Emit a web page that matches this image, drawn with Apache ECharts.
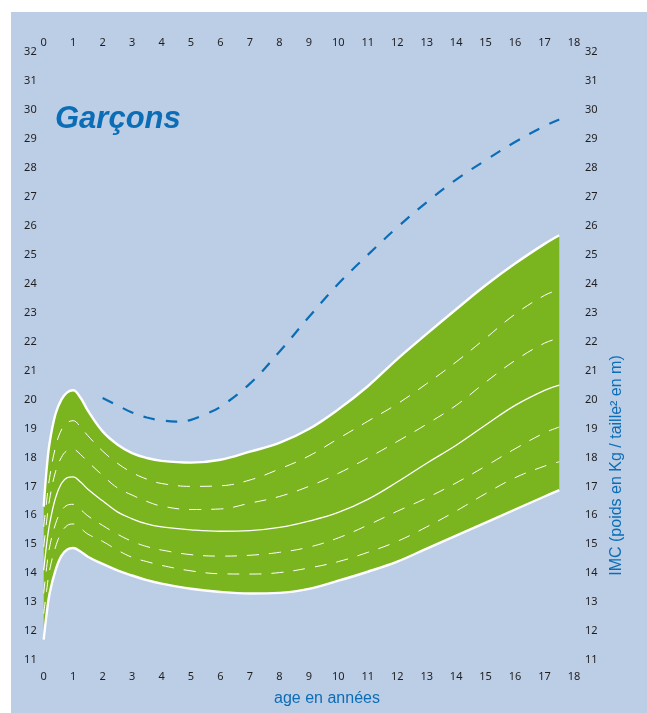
<!DOCTYPE html>
<html><head><meta charset="utf-8">
<script src="https://cdn.jsdelivr.net/npm/echarts@6/dist/echarts.min.js"></script>
<style>
html,body{margin:0;padding:0;background:#fff;width:647px;height:713px;overflow:hidden}
#c{position:absolute;left:11px;top:12px;width:636px;height:701px;background:#bccde6}
</style></head>
<body><div id="c"></div>
<script>
// Ages (years) for percentile curves
const ages = [0, 0.1, 0.2, 0.4, 0.6, 0.8, 1, 1.25, 1.5, 2, 2.5, 3, 3.5, 4, 5, 6, 7, 8, 9, 10, 11, 12, 13, 14, 15, 16, 17, 17.5];
const p97 = [16.3, 17.6, 18.5, 19.5, 20.0, 20.25, 20.32, 20.06, 19.62, 18.9, 18.45, 18.15, 17.98, 17.88, 17.82, 17.92, 18.2, 18.5, 18.98, 19.66, 20.46, 21.4, 22.27, 23.12, 23.95, 24.7, 25.38, 25.68];
const p90 = [15.6, 16.5, 17.3, 18.35, 18.95, 19.2, 19.27, 19.05, 18.75, 18.22, 17.8, 17.48, 17.25, 17.1, 17.0, 17.02, 17.22, 17.6, 18.05, 18.65, 19.25, 19.85, 20.55, 21.3, 22.12, 22.95, 23.6, 23.8];
const p75 = [14.9, 15.8, 16.55, 17.5, 18.0, 18.24, 18.28, 18.1, 17.85, 17.38, 16.95, 16.7, 16.48, 16.32, 16.2, 16.22, 16.42, 16.65, 17.0, 17.45, 17.98, 18.55, 19.15, 19.8, 20.6, 21.35, 21.95, 22.12];
const p50 = [14.1, 15.0, 15.7, 16.6, 17.1, 17.3, 17.33, 17.15, 16.9, 16.5, 16.12, 15.88, 15.7, 15.6, 15.5, 15.45, 15.47, 15.58, 15.8, 16.1, 16.55, 17.15, 17.8, 18.42, 19.12, 19.8, 20.32, 20.5];
const p25 = [13.3, 14.2, 14.9, 15.7, 16.15, 16.35, 16.38, 16.2, 15.98, 15.65, 15.35, 15.1, 14.92, 14.8, 14.64, 14.59, 14.62, 14.72, 14.9, 15.22, 15.66, 16.14, 16.6, 17.12, 17.7, 18.3, 18.85, 19.05];
const p10 = [12.6, 13.4, 14.1, 14.9, 15.4, 15.65, 15.7, 15.55, 15.35, 15.1, 14.8, 14.55, 14.4, 14.27, 14.08, 13.98, 13.97, 14.02, 14.18, 14.4, 14.72, 15.1, 15.6, 16.15, 16.75, 17.3, 17.7, 17.85];
const p3  = [11.7, 12.6, 13.3, 14.1, 14.6, 14.82, 14.87, 14.75, 14.57, 14.32, 14.1, 13.92, 13.76, 13.64, 13.46, 13.35, 13.3, 13.32, 13.46, 13.74, 14.05, 14.4, 14.85, 15.3, 15.75, 16.2, 16.65, 16.87];
// Obesity threshold (dashed blue)
const iotfAges = [2, 2.5, 3, 3.5, 4, 4.5, 5, 5.5, 6, 7, 8, 9, 10, 11, 12, 13, 14, 15, 16, 17, 17.5];
const iotf = [20.05, 19.8, 19.55, 19.38, 19.28, 19.24, 19.3, 19.5, 19.75, 20.55, 21.65, 22.85, 24.0, 25.0, 25.95, 26.82, 27.6, 28.27, 28.9, 29.45, 29.68];
// Axis ranges
const xMin = 0, xMax = 18, yMin = 11, yMax = 32;
const titleText = 'Garçons';
const xName = 'age en années';
const yName = 'IMC (poids en Kg / taille\u00b2 en m)';

const GREEN = '#7ab41e', BLUE = '#0b6db5', LABEL = '#1e1e1e';
const zip = (xs, ys) => xs.map((x, i) => [x, ys[i]]);
// value-first rows so that stacking acts on the BMI dimension
const zipV = (xs, ys) => xs.map((x, i) => [ys[i], x]);
const bandWidth = p97.map((v, i) => +(v - p3[i]).toFixed(3));
const SM = 0.4;

const chart = echarts.init(document.getElementById('c'), null, {renderer: 'canvas'});
const lab = (m) => ({show: true, margin: m, fontSize: 11, color: LABEL, fontFamily: 'Noto Sans'});
const xa = (pos, m) => ({type: 'value', position: pos, min: xMin, max: xMax, interval: 1,
  axisLine: {show: false}, axisTick: {show: false}, splitLine: {show: false}, axisLabel: lab(m)});
const ya = (pos, m) => ({type: 'value', position: pos, min: yMin, max: yMax, interval: 1,
  axisLine: {show: false}, axisTick: {show: false}, splitLine: {show: false}, axisLabel: lab(m)});
const line = (ys, width, dash, z) => ({type: 'line', data: zip(ages, ys), symbol: 'none', smooth: SM,
  silent: true, z: z || 3,
  lineStyle: {color: '#ffffff', width: width, type: dash ? [12, 10] : 'solid', opacity: 1}});

chart.setOption({
  animation: false,
  grid: {left: 32.7, right: 73, top: 40.3, bottom: 53},
  xAxis: [xa('bottom', 11), xa('top', 4)],
  yAxis: [ya('left', 7), ya('right', 11)],
  series: [
    {type: 'line', data: zipV(ages, p3), encode: {x: 1, y: 0}, stack: 'band', symbol: 'none', smooth: SM,
      silent: true, lineStyle: {opacity: 0}, z: 1},
    {type: 'line', data: zipV(ages, bandWidth), encode: {x: 1, y: 0}, stack: 'band', symbol: 'none', smooth: SM,
      silent: true, lineStyle: {opacity: 0}, areaStyle: {color: GREEN, opacity: 1}, z: 1},
    line(p97, 2.4, false, 5),
    line(p90, 1, true),
    line(p75, 1, true),
    line(p50, 1.3, false),
    line(p25, 1, true),
    line(p10, 1, true),
    line(p3, 2.4, false, 5),
    {type: 'line', data: zip(iotfAges, iotf), symbol: 'none', smooth: SM, silent: true, z: 6,
      lineStyle: {color: BLUE, width: 2.2, type: [11.5, 11]}}
  ],
  graphic: [
    {type: 'text', left: 44, top: 92, style: {text: titleText, fill: BLUE,
      font: 'italic bold 31px "Liberation Sans", Arial, sans-serif'}},
    {type: 'text', x: 316, y: 687, style: {text: xName, fill: BLUE, align: 'center', verticalAlign: 'middle',
      font: '16px "Liberation Sans", Arial, sans-serif'}},
    {type: 'text', x: 606, y: 453.5, rotation: Math.PI / 2, style: {text: yName, fill: BLUE,
      align: 'center', verticalAlign: 'middle', font: '16px "Liberation Sans", Arial, sans-serif'}}
  ]
});
</script></body></html>
